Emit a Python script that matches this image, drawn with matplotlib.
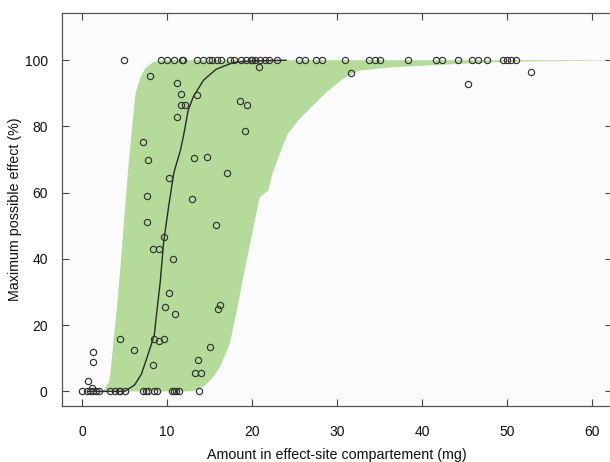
import numpy as np
import matplotlib
matplotlib.use("Agg")
import matplotlib.pyplot as plt

plt.rcParams['font.family'] = ['Liberation Sans', 'DejaVu Sans']

# observed data: amount (mg) vs effect (%)
obs_x = [4.9, 9.3, 10.0, 10.8, 11.8, 11.9, 13.5, 14.2, 14.9, 15.3, 15.9, 16.3,
         17.4, 17.9, 18.7, 19.3, 19.9, 20.0, 20.4, 20.9, 21.5, 22.0, 22.9, 25.5,
         26.2, 27.5, 28.2, 30.9, 33.8, 34.5, 35.0, 38.3, 41.6, 42.4, 44.2, 45.9,
         46.6, 47.6, 49.5, 50.0, 50.5, 51.1,
         31.6, 45.4, 52.8, 20.8,
         8.0, 11.2, 11.6, 13.5, 11.6, 12.1, 11.2, 18.6, 19.4, 19.2, 7.2, 7.8,
         13.2, 14.7, 10.2, 17.1, 7.6, 12.9,
         7.6, 15.8, 9.6, 8.4, 9.0, 10.7, 10.2, 9.8, 16.2, 16.0, 10.9,
         4.5, 6.1, 8.5, 9.0, 9.7, 15.0, 13.7, 13.3, 14.0, 8.4, 1.26, 1.33, 0.7, 1.2,
         0.0, 0.55, 0.94, 1.33, 1.65, 2.04, 3.3, 3.9, 4.3, 4.5, 5.1, 7.2, 7.5,
         7.8, 8.5, 8.8, 10.6, 10.8, 11.1, 11.4, 13.8]
obs_y = [100] * 42 + \
        [96.2, 92.7, 96.4, 98.1,
         95.3, 93.0, 89.8, 89.4, 86.5, 86.5, 83.0, 87.7, 86.5, 78.7, 75.2, 69.9,
         70.6, 70.8, 64.5, 65.8, 58.9, 58.2,
         51.1, 50.1, 46.5, 42.9, 42.9, 40.1, 29.8, 25.6, 26.2, 25.0, 23.4,
         15.7, 12.5, 15.7, 15.1, 15.7, 13.4, 9.4, 5.7, 5.7, 7.9, 11.9, 8.8, 3.0, 1.1] + \
        [0] * 21

# prediction interval, upper edge (left side of band)
hi_x = [2.0, 2.6, 3.2, 3.4, 3.7, 4.1, 4.6, 5.1, 5.6, 5.9, 6.3, 6.9, 7.5, 8.4, 10.0, 62.4]
hi_y = [0, 0.5, 3, 7, 15, 25, 40, 57, 72, 80, 90, 95, 97.7, 99.5, 100, 100]
# lower edge (right side of band)
lo_x = [12.5, 13.5, 14.7, 15.5, 16.2, 17.0, 17.4, 18.2, 19.6, 20.9, 21.9, 22.4,
        23.4, 24.2, 25.5, 26.8, 28.8, 30.7, 32.7, 36.6, 40.6, 44.5, 48.4, 52.3, 62.4]
lo_y = [0, 0.3, 2.3, 4.5, 7.3, 12, 14.5, 24.4, 42.5, 58.6, 60.6, 65.7,
        72.7, 77.7, 82, 85.4, 90.4, 94.4, 96.9, 97.9, 98.4, 98.9, 99.4, 99.6, 99.9]

# median prediction
med_x = [0.7, 5.0, 5.5, 6.2, 7.0, 7.8, 8.5, 8.8, 9.2, 9.6, 10.2, 10.8, 11.6,
         12.0, 12.5, 13.1, 14.3, 15.8, 17.8, 20.0, 24.0]
med_y = [0, 0, 0.8, 2, 5.3, 11.4, 17, 24, 33, 45, 56, 66, 73,
         78, 85, 89, 94, 97.3, 99.3, 99.8, 100]

fig = plt.figure(figsize=(6.1, 4.62), dpi=100)
fig.patch.set_facecolor('white')
ax = fig.add_axes([0.101, 0.1212, 0.903, 0.8517])
ax.set_facecolor('#fbfbfd')

band_x = hi_x + lo_x[::-1]
band_y = hi_y + lo_y[::-1]
ax.fill(band_x, band_y, color='#b4db9a', lw=0)
ax.plot(med_x, med_y, color='#2a2a2a', lw=1.0)
ax.plot(obs_x, obs_y, 'o', ms=4.5, mfc='none', mec='#333333', mew=0.85)

ax.set_xlim(-2.4, 62.4)
ax.set_ylim(-4.4, 114.4)
ax.set_xticks(np.arange(0, 61, 10))
ax.set_yticks(np.arange(0, 101, 20))
ax.tick_params(direction='in', length=5, width=0.8, color='#444444',
               top=True, right=True, labelsize=10, labelcolor='#111111')
ax.tick_params(axis='x', pad=14)
ax.tick_params(axis='y', pad=10)
for s in ax.spines.values():
    s.set_color('#555555')
    s.set_linewidth(0.9)

ax.set_xlabel('Amount in effect-site compartement (mg)', fontsize=10.3, labelpad=6, color='#111111')
ax.set_ylabel('Maximum possible effect (%)', fontsize=10.3, labelpad=2, color='#111111')

fig.savefig('out.png', dpi=100)
